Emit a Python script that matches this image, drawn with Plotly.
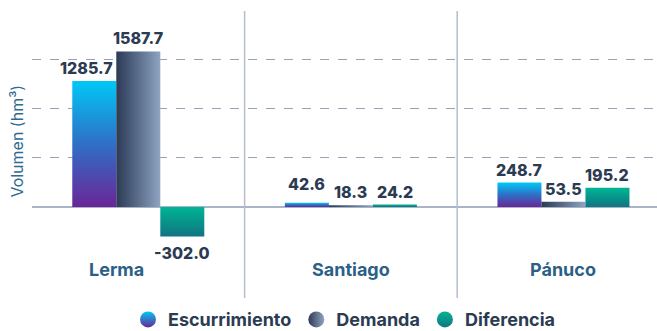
import plotly.graph_objects as go

# Volumes per basin (hm3)
categories = ["Lerma", "Santiago", "Pánuco"]
escurrimiento = [1285.7, 42.6, 248.7]
demanda = [1587.7, 18.3, 53.5]
diferencia = [-302.0, 24.2, 195.2]

series = [
    ("Escurrimiento", escurrimiento, "vertical", ["#6a2697", "#2f6fc6", "#00c8f6"]),
    ("Demanda", demanda, "horizontal", ["#2c3a55", "#5a6e8c", "#8fa4c0"]),
    ("Diferencia", diferencia, "vertical", ["#127482", "#07948a", "#00b595"]),
]
# pixel nudges (dx, dy) for value labels that would crowd a neighbour
label_nudge = [
    [(-8, 0), (0, 6), (0, 0)],
    [(0, 0), (0, 0), (0, 0)],
    [(0, 0), (0, 0), (0, 0)],
]

BAR_W = 0.207          # bar width in category units
LABEL_COLOR = "#2b3b52"
CAT_COLOR = "#2c5f86"
FONT = "Inter"

fig = go.Figure()

annotations = []
for k, (name, values, gtype, colors) in enumerate(series):
    scale = [[0, colors[0]], [0.5, colors[1]], [1, colors[2]]]
    for i, v in enumerate(values):
        x0 = i + (k - 1) * BAR_W - BAR_W / 2
        x1 = x0 + BAR_W
        fig.add_trace(go.Scatter(
            x=[x0, x1, x1, x0, x0],
            y=[0, 0, v, v, 0],
            mode="lines",
            line=dict(width=0),
            fill="toself",
            fillgradient=dict(type=gtype, colorscale=scale),
            showlegend=False,
            hoverinfo="skip",
        ))
        dx, dy = label_nudge[k][i]
        annotations.append(dict(
            x=i + (k - 1) * BAR_W, y=v, xref="x", yref="y",
            text=f"{v:.1f}", showarrow=False,
            yanchor="bottom" if v >= 0 else "top",
            yshift=(1 if v >= 0 else -4) + dy, xshift=dx,
            font=dict(family=FONT, size=16, color=LABEL_COLOR, weight=800),
        ))
    # legend entry: gradient circle
    if gtype == "vertical":
        marker = dict(size=16, color=colors[2], gradient=dict(type="vertical", color=colors[0]))
    else:
        marker = dict(size=16, color=colors[0], gradient=dict(type="horizontal", color=colors[2]))
    fig.add_trace(go.Scatter(
        x=[None], y=[None], mode="markers", name=name, marker=marker,
    ))

# Category names below the axis
cat_shift = [-22, 0, 0]
for i, c in enumerate(categories):
    annotations.append(dict(
        x=i, y=0.10, xref="x", yref="paper", text=c,
        showarrow=False, xshift=cat_shift[i], yanchor="middle",
        font=dict(family=FONT, size=18, color=CAT_COLOR, weight=700),
    ))

# Axis title
annotations.append(dict(
    x=-0.024, y=0.545, xref="paper", yref="paper", text="Volumen (hm³)",
    textangle=-90, showarrow=False, xanchor="center", yanchor="middle",
    font=dict(family=FONT, size=16, color="#2e6b90"),
))

# Basin separators
shapes = [
    dict(type="line", xref="x", yref="paper", x0=s, x1=s, y0=0, y1=1,
         line=dict(color="#b3bfce", width=1.5))
    for s in (0.5, 1.5)
]

fig.update_layout(
    width=657, height=331,
    margin=dict(l=32, r=0, t=11, b=33),
    paper_bgcolor="white", plot_bgcolor="white",
    font=dict(family=FONT),
    xaxis=dict(range=[-0.5, 2.44], showticklabels=False, showgrid=False,
               zeroline=False, showline=False, fixedrange=True),
    yaxis=dict(range=[-929, 2000], tickvals=[500, 1000, 1500], showticklabels=False,
               showgrid=True, gridcolor="#94a3b8", griddash="dash", gridwidth=1,
               zeroline=True, zerolinecolor="#a9b5c6", zerolinewidth=1.5,
               showline=False, fixedrange=True),
    legend=dict(orientation="h", x=0.5, xanchor="center", xref="paper",
                y=0.034, yanchor="middle", yref="container",
                font=dict(family=FONT, size=18, color=LABEL_COLOR, weight=700),
                itemsizing="trace", bgcolor="rgba(0,0,0,0)"),
    annotations=annotations,
    shapes=shapes,
)

fig.write_html("out.html")
